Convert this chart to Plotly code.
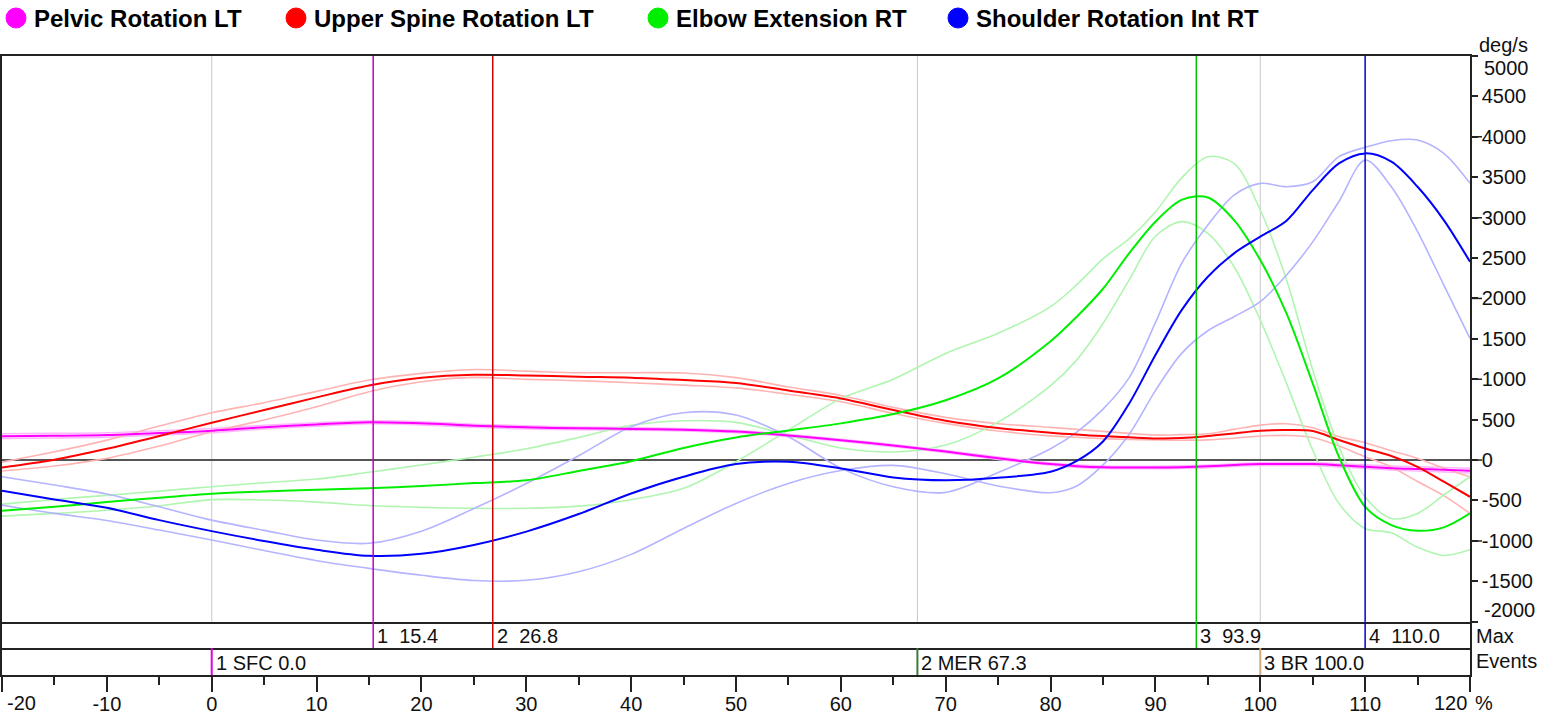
import plotly.graph_objects as go
from plotly.subplots import make_subplots

# ---------------- data ----------------
pct = [-20, -15, -10, -5, 0, 5, 10, 15, 20, 25, 30, 35, 40, 45, 50, 55, 60, 65, 70, 75,
       80, 82.5, 85, 87.5, 90, 92.5, 95, 97.5, 100, 102.5, 105, 107.5, 110, 112.5, 115, 117.5, 120]

pelvic_mean = [296, 301, 310, 335, 364, 407, 441, 468, 455, 425, 405, 393, 386, 375, 352, 305, 245, 180, 105, 22,
               -50, -75, -90, -93, -92, -88, -78, -62, -50, -48, -50, -65, -83, -100, -110, -120, -132]
pelvic_upper = [326, 330, 338, 362, 390, 430, 462, 485, 474, 444, 424, 410, 402, 390, 366, 318, 258, 193, 118, 36,
                -36, -60, -75, -78, -77, -72, -62, -46, -33, -30, -32, -45, -60, -75, -83, -92, -102]
pelvic_lower = [268, 274, 284, 310, 340, 385, 420, 450, 436, 406, 386, 376, 370, 360, 338, 290, 232, 167, 92, 8,
                -64, -90, -105, -108, -107, -104, -94, -78, -67, -66, -68, -84, -104, -122, -135, -146, -160]

spine_mean = [-91, 5, 140, 297, 462, 619, 776, 924, 1019, 1056, 1048, 1031, 1019, 990, 955, 860, 763, 619, 487, 396,
              338, 315, 297, 282, 268, 272, 297, 330, 363, 371, 359, 248, 144, 50, -83, -268, -454]
spine_upper = [-25, 103, 247, 421, 586, 710, 850, 990, 1073, 1120, 1101, 1081, 1081, 1077, 1020, 905, 800, 652, 528, 450,
               405, 380, 355, 330, 309, 315, 325, 380, 433, 450, 400, 290, 215, 115, 20, -100, -206]
spine_lower = [-136, -74, 21, 173, 351, 495, 660, 846, 969, 1023, 998, 982, 957, 928, 893, 815, 722, 577, 454, 359,
               300, 282, 265, 255, 248, 245, 250, 270, 297, 305, 280, 175, 41, -85, -265, -440, -660]

elbow_mean = [-627, -578, -520, -466, -417, -388, -368, -350, -322, -285, -250, -135, -15, 150, 280, 365, 454, 569, 740, 1010,
              1470, 1774, 2120, 2560, 2950, 3220, 3250, 2970, 2475, 1815, 949, 41, -578, -804, -875, -833, -660]
elbow_band_a = [-545, -487, -437, -384, -330, -280, -235, -150, -60, 35, 140, 280, 430, 487, 466, 309, 150, 100, 186, 470,
                920, 1240, 1690, 2230, 2770, 2950, 2805, 2392, 1733, 949, 124, -536, -846, -900, -1080, -1180, -1110]
elbow_band_b = [-693, -660, -620, -565, -490, -495, -520, -563, -585, -597, -597, -570, -490, -350, -20, 370, 760, 1000, 1320, 1568,
                1898, 2170, 2490, 2740, 3070, 3492, 3754, 3670, 3094, 2231, 1115, 165, -456, -723, -660, -432, -206]

shoulder_mean = [-380, -487, -590, -743, -879, -1002, -1110, -1185, -1160, -1050, -885, -668, -413, -206, -50, -21, -103, -215, -250, -219,
                 -144, -10, 230, 700, 1300, 1856, 2269, 2558, 2764, 2962, 3341, 3671, 3795, 3692, 3382, 2970, 2454]
shoulder_band_a = [-206, -309, -421, -578, -743, -870, -990, -1030, -880, -600, -290, 54, 413, 586, 557, 289, -100, -330, -400, -153,
                   140, 345, 630, 1020, 1700, 2434, 2910, 3279, 3424, 3383, 3444, 3754, 3870, 3952, 3960, 3795, 3424]
shoulder_band_b = [-557, -660, -747, -866, -990, -1120, -1245, -1340, -1425, -1490, -1488, -1382, -1167, -846, -536, -289, -130, -66, -170, -320,
                   -404, -320, -60, 320, 860, 1320, 1600, 1774, 1960, 2290, 2700, 3200, 3712, 3382, 2826, 2166, 1506]

series_names = ["Pelvic Rotation LT", "Upper Spine Rotation LT", "Elbow Extension RT", "Shoulder Rotation Int RT"]
series_means = [pelvic_mean, spine_mean, elbow_mean, shoulder_mean]
series_bands = [[pelvic_upper, pelvic_lower], [spine_upper, spine_lower],
                [elbow_band_a, elbow_band_b], [shoulder_band_a, shoulder_band_b]]
series_colors = ["#ff00ff", "#ff0000", "#00ee00", "#0000ff"]
band_colors = ["#ffb8ff", "#ffb4b4", "#b0f5b0", "#b4b4ff"]

max_pos = [15.4, 26.8, 93.9, 110.0]
max_labels = ["1\u00a0\u00a015.4", "2\u00a0\u00a026.8", "3\u00a0\u00a093.9", "4\u00a0\u00a0110.0"]
max_colors = ["#c000c0", "#cc0000", "#00c000", "#0000cc"]

event_pos = [0.0, 67.3, 100.0]
event_labels = ["1 SFC 0.0", "2 MER 67.3", "3 BR 100.0"]
event_colors = ["#e000e0", "#3a7a3a", "#d2aa80"]

y_ticks = list(range(-2000, 5001, 500))
x_ticks = list(range(-20, 121, 10))

# ---------------- layout helpers ----------------
W, H = 1554, 719
ML, MR, MT, MB = 2, 84, 56, 44
PW = W - ML - MR
PH = H - MT - MB
FONT = "Liberation Sans, Arial, sans-serif"


def fx(px):
    return (px - ML) / PW


def fy(py):
    return (H - MB - py) / PH


fig = make_subplots(rows=3, cols=1, shared_xaxes=True, vertical_spacing=0)

for bands, bc in zip(series_bands, band_colors):
    for b in bands:
        fig.add_trace(go.Scatter(x=pct, y=b, mode="lines", line=dict(color=bc, width=1.6, shape="spline", smoothing=0.9),
                                 showlegend=False, hoverinfo="skip"), row=1, col=1)
for name, m, c in zip(series_names, series_means, series_colors):
    fig.add_trace(go.Scatter(x=pct, y=m, mode="lines", name=name,
                             line=dict(color=c, width=2, shape="spline", smoothing=0.9),
                             showlegend=False), row=1, col=1)

line_style = dict(showline=True, linecolor="#222222", linewidth=1.5, showgrid=False, zeroline=False)

fig.update_xaxes(range=[-20, 120], **line_style)
fig.update_xaxes(showticklabels=False, ticks="", mirror=True, row=1, col=1)
fig.update_xaxes(showticklabels=False, ticks="", mirror=False, row=2, col=1)
fig.update_xaxes(ticks="outside", tickvals=x_ticks, mirror=False,
                 ticktext=["" if v in (x_ticks[0], x_ticks[-1]) else str(v) for v in x_ticks],
                 ticklen=15, tickwidth=1.5, tickcolor="#222222", ticklabelstandoff=-5,
                 tickfont=dict(family=FONT, size=20, color="#111111"),
                 minor=dict(ticks="outside", dtick=5, tick0=-20, ticklen=8, tickwidth=1.5, tickcolor="#222222"),
                 row=3, col=1)

fig.update_layout(
    yaxis=dict(domain=[fy(621.7), 1], side="right", range=[-2000, 5000],
               tickvals=y_ticks,
               ticktext=["" if v in (y_ticks[0], y_ticks[-1]) else str(v) for v in y_ticks],
               ticks="outside", ticklen=6, tickwidth=1.5, tickcolor="#222222",
               tickfont=dict(family=FONT, size=20, color="#111111"),
               showline=True, mirror=True, linecolor="#222222", linewidth=1.5, showgrid=False,
               zeroline=True, zerolinecolor="#555555", zerolinewidth=1.5),
    yaxis2=dict(domain=[fy(648), fy(621.7)], range=[0, 1], showticklabels=False, ticks="", mirror=True, **line_style),
    yaxis3=dict(domain=[0, fy(648)], range=[0, 1], showticklabels=False, ticks="", mirror=True, **line_style),
)

shapes = []
# event grid lines in the main plot
for p in event_pos:
    shapes.append(dict(type="line", xref="x", yref="y domain", x0=p, x1=p, y0=0, y1=1,
                       line=dict(color="#c8c8c8", width=1), layer="below"))
# event markers in the events row
for p, c in zip(event_pos, event_colors):
    shapes.append(dict(type="line", xref="x3", yref="y3 domain", x0=p, x1=p, y0=0, y1=1,
                       line=dict(color=c, width=2)))
# max lines
for p, c in zip(max_pos, max_colors):
    shapes.append(dict(type="line", xref="x", yref="y domain", x0=p, x1=p, y0=0, y1=1,
                       line=dict(color=c, width=1.5)))
    shapes.append(dict(type="line", xref="x2", yref="y2 domain", x0=p, x1=p, y0=0, y1=1,
                       line=dict(color=c, width=1.5)))
# long ticks at thousands on the right axis
for v in y_ticks:
    if v % 1000 == 0 and y_ticks[0] < v < y_ticks[-1]:
        shapes.append(dict(type="line", xref="paper", yref="y", x0=1, x1=1 + 12 / PW, y0=v, y1=v,
                           line=dict(color="#222222", width=1.5)))
# legend circles
legend_px = [16, 296, 658, 958]
for px, c in zip(legend_px, series_colors):
    shapes.append(dict(type="circle", xref="paper", yref="paper",
                       x0=fx(px - 10), x1=fx(px + 10), y0=fy(28), y1=fy(8),
                       fillcolor=c, line=dict(color=c, width=1)))

ann = []
for px, name in zip(legend_px, series_names):
    ann.append(dict(text="<b>%s</b>" % name, xref="paper", yref="paper", x=fx(px + 16), y=fy(18),
                    xanchor="left", yanchor="middle", showarrow=False,
                    font=dict(family=FONT, size=24, color="#000000")))
for p, t in zip(max_pos, max_labels):
    ann.append(dict(text=t, xref="x2", yref="y2 domain", x=p, y=0.45, xanchor="left", yanchor="middle",
                    xshift=2, showarrow=False, font=dict(family=FONT, size=20, color="#111111")))
for p, t in zip(event_pos, event_labels):
    ann.append(dict(text=t, xref="x3", yref="y3 domain", x=p, y=0.45, xanchor="left", yanchor="middle",
                    xshift=2, showarrow=False, font=dict(family=FONT, size=20, color="#111111")))

side_font = dict(family=FONT, size=20, color="#111111")
ann += [
    dict(text="Max", xref="paper", yref="paper", x=fx(1474), y=fy(636), xanchor="left", yanchor="middle", showarrow=False, font=side_font),
    dict(text="Events", xref="paper", yref="paper", x=fx(1474), y=fy(661), xanchor="left", yanchor="middle", showarrow=False, font=side_font),
    dict(text="deg/s", xref="paper", yref="paper", x=fx(1477), y=fy(45), xanchor="left", yanchor="middle", showarrow=False, font=side_font),
    dict(text=str(y_ticks[-1]), xref="paper", yref="paper", x=fx(1482), y=fy(68), xanchor="left", yanchor="middle", showarrow=False, font=side_font),
    dict(text=str(y_ticks[0]), xref="paper", yref="paper", x=fx(1482), y=fy(610), xanchor="left", yanchor="middle", showarrow=False, font=side_font),
    dict(text=str(x_ticks[0]), xref="paper", yref="paper", x=fx(5), y=fy(703), xanchor="left", yanchor="middle", showarrow=False, font=side_font),
    dict(text=str(x_ticks[-1]), xref="paper", yref="paper", x=fx(1469), y=fy(703), xanchor="right", yanchor="middle", showarrow=False, font=side_font),
    dict(text="%", xref="paper", yref="paper", x=fx(1473), y=fy(703), xanchor="left", yanchor="middle", showarrow=False, font=side_font),
]

fig.update_layout(width=W, height=H, margin=dict(l=ML, r=MR, t=MT, b=MB, autoexpand=False),
                  paper_bgcolor="white", plot_bgcolor="white", showlegend=False,
                  font=dict(family=FONT, color="#111111"),
                  shapes=shapes, annotations=ann)

fig.write_html("out.html", config={"displayModeBar": False},
               post_script="document.body.style.margin='0px';document.body.style.overflow='hidden';")
